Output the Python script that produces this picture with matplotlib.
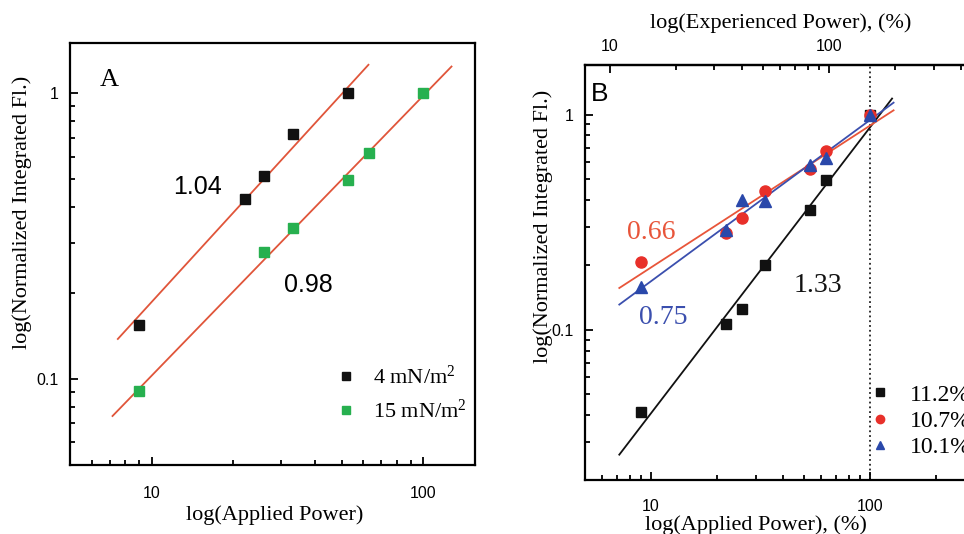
import numpy as np
import matplotlib
matplotlib.use("Agg")
import matplotlib.pyplot as plt
from matplotlib.ticker import LogLocator, NullFormatter, FixedLocator, FixedFormatter

plt.rcParams['mathtext.fontset'] = 'custom'
plt.rcParams['mathtext.rm'] = 'Liberation Serif'
plt.rcParams['mathtext.it'] = 'Liberation Serif:italic'

SERIF = 'Liberation Serif'
SANS = 'Liberation Sans'

# ---------------- Panel A data ----------------
a_x_4 = [9, 22, 26, 33, 53]
a_y_4 = [0.155, 0.426, 0.515, 0.719, 1.0]
a_x_15 = [9, 26, 33, 53, 63, 100]
a_y_15 = [0.091, 0.278, 0.337, 0.497, 0.62, 1.0]
a_labels = ['4 mN/m$^{2}$', '15 mN/m$^{2}$']
# fitted power laws (log10 y = slope*log10 x + intercept), and x extents
a_fit_4 = dict(slope=1.04, intercept=-1.77, xmin=7.5, xmax=62.8)
a_fit_15 = dict(slope=0.98, intercept=-1.968, xmin=7.17, xmax=127)

# ---------------- Panel B data ----------------
b_x = [9, 22, 26, 33, 53, 63, 100]
b_y_112 = [0.0413, 0.1066, 0.125, 0.199, 0.36, 0.497, 1.0]
b_y_107 = [0.207, 0.282, 0.33, 0.443, 0.558, 0.68, 1.0]
b_y_101 = [0.158, 0.29, 0.40, 0.397, 0.584, 0.628, 1.0]
b_labels = ['11.2%', '10.7%', '10.1%']
b_fit_112 = dict(slope=1.33, intercept=-2.719, xmin=7.17, xmax=126)
b_fit_107 = dict(slope=0.66, intercept=-1.371, xmin=7.17, xmax=128)
b_fit_101 = dict(slope=0.75, intercept=-1.525, xmin=7.17, xmax=128)
exp_factor = 1.54  # experienced power = applied * factor

W, H = 964, 534
fig = plt.figure(figsize=(W / 100, H / 100), dpi=100)

TICK_FS = 11.5
LABEL_FS = 16


def fig_rect(l, r, t, b):
    return [l / W, (H - b) / H, (r - l) / W, (b - t) / H]


def fit_line(ax, fit, color, lw=1.3):
    xs = np.logspace(np.log10(fit['xmin']), np.log10(fit['xmax']), 50)
    ys = 10 ** (fit['slope'] * np.log10(xs) + fit['intercept'])
    ax.plot(xs, ys, color=color, lw=lw, zorder=2)


def style_axes(ax):
    for s in ax.spines.values():
        s.set_linewidth(1.6)
    ax.tick_params(which='both', direction='in', width=1.3, labelsize=TICK_FS)
    ax.tick_params(which='major', length=6)
    ax.tick_params(which='minor', length=3.5)
    for lab in ax.get_xticklabels() + ax.get_yticklabels():
        lab.set_fontfamily(SANS)


def log_ticks(ax):
    ax.xaxis.set_major_locator(FixedLocator([10, 100]))
    ax.xaxis.set_major_formatter(FixedFormatter(['10', '100']))
    ax.xaxis.set_minor_locator(LogLocator(base=10, subs=np.arange(2, 10)))
    ax.xaxis.set_minor_formatter(NullFormatter())
    ax.yaxis.set_major_locator(FixedLocator([0.1, 1]))
    ax.yaxis.set_major_formatter(FixedFormatter(['0.1', '1']))
    ax.yaxis.set_minor_locator(LogLocator(base=10, subs=np.arange(2, 10)))
    ax.yaxis.set_minor_formatter(NullFormatter())


# ---------------- Panel A ----------------
axA = fig.add_axes(fig_rect(70, 475, 43, 465))
axA.set_xscale('log')
axA.set_yscale('log')
axA.set_xlim(5, 155)
axA.set_ylim(0.05, 1.5)
fit_line(axA, a_fit_4, '#e0553a')
fit_line(axA, a_fit_15, '#e0553a')
axA.plot(a_x_4, a_y_4, 's', color='#111111', ms=7, ls='none', label=a_labels[0], zorder=3)
axA.plot(a_x_15, a_y_15, 's', color='#27b04f', ms=7, ls='none', label=a_labels[1], zorder=3)
log_ticks(axA)
style_axes(axA)
axA.tick_params(axis='x', pad=15)
axA.tick_params(axis='y', pad=8)
axA.text(14.8, 0.47, '1.04', fontsize=18, family=SANS, ha='center', va='center')
axA.text(37.7, 0.214, '0.98', fontsize=18, family=SANS, ha='center', va='center')
axA.text(7.0, 1.11, 'A', fontsize=19, family=SERIF, ha='center', va='center')
legA = axA.legend(loc='upper left', bbox_to_anchor=(0.61, 0.284), frameon=False,
                  prop={'family': SERIF, 'size': 16}, handletextpad=0.83,
                  labelspacing=0.5, markerscale=0.85, handlelength=0.8)
fig.text(275 / W, 1 - 515 / H, 'log(Applied Power)', family=SERIF, fontsize=LABEL_FS,
         ha='center', va='center')
fig.text(22 / W, 1 - 212 / H, 'log(Normalized Integrated Fl.)', family=SERIF,
         fontsize=LABEL_FS, ha='center', va='center', rotation=90)

# ---------------- Panel B ----------------
axB = fig.add_axes(fig_rect(585, 1002, 65, 480))
axB.set_xscale('log')
axB.set_yscale('log')
axB.set_xlim(5, 400)
axB.set_ylim(0.02, 1.7)
axB.axvline(100, color='#222222', ls=':', lw=1.3, zorder=1)
fit_line(axB, b_fit_112, '#111111')
fit_line(axB, b_fit_107, '#e8553a')
fit_line(axB, b_fit_101, '#3b4fae')
axB.plot(b_x, b_y_112, 's', color='#111111', ms=7, ls='none', label=b_labels[0], zorder=3)
axB.plot(b_x, b_y_107, 'o', color='#e8302a', ms=8, ls='none', label=b_labels[1], zorder=3)
axB.plot(b_x, b_y_101, '^', color='#2a48aa', ms=8.5, ls='none', label=b_labels[2], zorder=4)
log_ticks(axB)
style_axes(axB)
axB.tick_params(axis='x', pad=14)
axB.tick_params(axis='y', pad=8)

secB = axB.secondary_xaxis('top', functions=(lambda x: x * exp_factor,
                                               lambda x: x / exp_factor))
secB.xaxis.set_major_locator(FixedLocator([10, 100]))
secB.xaxis.set_major_formatter(FixedFormatter(['10', '100']))
secB.xaxis.set_minor_locator(FixedLocator([20, 30, 40, 50, 60, 70, 80, 90, 200, 300, 400, 500]))
secB.xaxis.set_minor_formatter(NullFormatter())
secB.spines['top'].set_linewidth(1.6)
secB.tick_params(which='both', direction='in', width=1.3, labelsize=TICK_FS, pad=8)
secB.tick_params(which='major', length=6)
secB.tick_params(which='minor', length=3.5)
for lab in secB.get_xticklabels():
    lab.set_fontfamily(SANS)

axB.text(10.0, 0.284, '0.66', fontsize=20, family=SERIF, color='#e8553a',
         ha='center', va='center')
axB.text(11.4, 0.1145, '0.75', fontsize=20, family=SERIF, color='#3b4fae',
         ha='center', va='center')
axB.text(57.7, 0.161, '1.33', fontsize=20, family=SERIF, color='#111111',
         ha='center', va='center')
axB.text(5.85, 1.25, 'B', fontsize=19, family=SANS, ha='center', va='center')
legB = axB.legend(loc='upper left', bbox_to_anchor=(0.628, 0.282), frameon=False,
                  prop={'family': SERIF, 'size': 17}, handletextpad=0.77,
                  labelspacing=0.2, markerscale=0.75, handlelength=1.0)
fig.text(756 / W, 1 - 525 / H, 'log(Applied Power), (%)', family=SERIF, fontsize=LABEL_FS,
         ha='center', va='center')
fig.text(781 / W, 1 - 23 / H, 'log(Experienced Power), (%)', family=SERIF,
         fontsize=LABEL_FS, ha='center', va='center')
fig.text(543 / W, 1 - 226 / H, 'log(Normalized Integrated Fl.)', family=SERIF,
         fontsize=LABEL_FS, ha='center', va='center', rotation=90)

fig.savefig('out.png', dpi=100)
